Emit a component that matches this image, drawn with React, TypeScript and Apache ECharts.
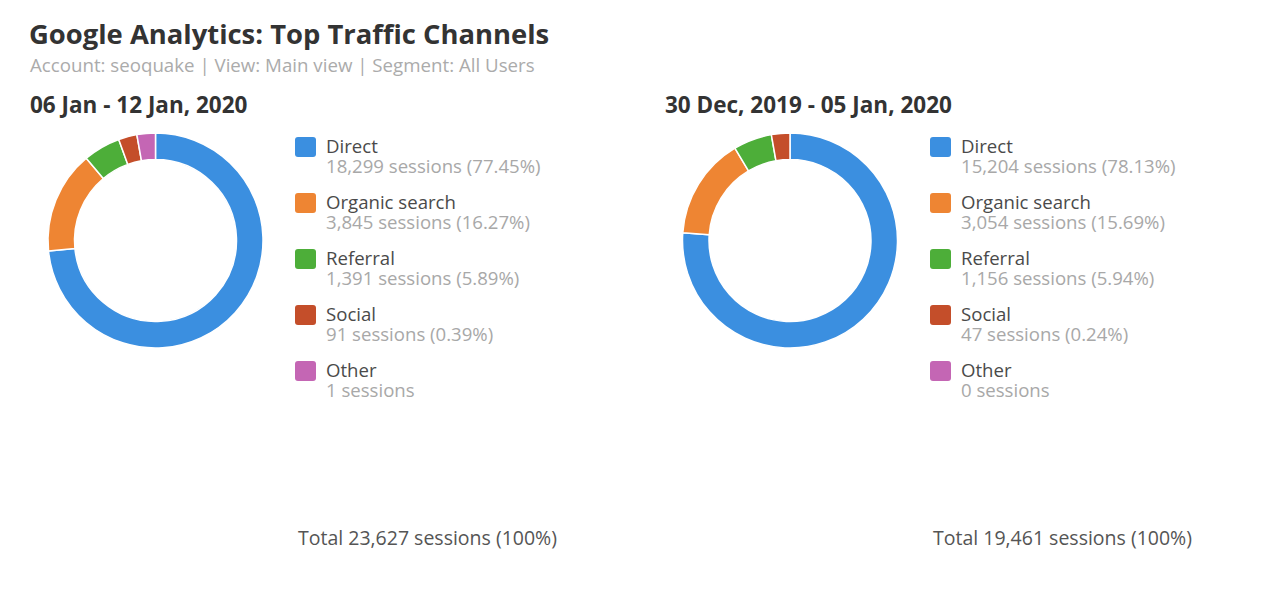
import React, { useEffect, useRef } from "react";
import * as echarts from "echarts";

const channels = ["Direct", "Organic search", "Referral", "Social", "Other"];
const colors = ["#3B8FE0", "#EE8533", "#4DAE39", "#C44E2A", "#C466B4"];
const week1Sessions = [18299, 3845, 1391, 91, 1];
const week1Pct = ["77.45%", "16.27%", "5.89%", "0.39%", ""];
const week2Sessions = [15204, 3054, 1156, 47, 0];
const week2Pct = ["78.13%", "15.69%", "5.94%", "0.24%", ""];
const week1Label = "06 Jan - 12 Jan, 2020";
const week2Label = "30 Dec, 2019 - 05 Jan, 2020";
const week1Total = 23627;
const week2Total = 19461;

const FONT = "'Open Sans', 'Noto Sans', sans-serif";
const fmt = (n: number) => n.toLocaleString("en-US");

function legendGraphics(x0: number, sessions: number[], pcts: string[]) {
  const els: any[] = [];
  channels.forEach((name, i) => {
    const y = 137 + i * 56;
    els.push({
      type: "rect",
      shape: { x: x0, y, width: 21, height: 20, r: 3 },
      style: { fill: colors[i] },
    });
    els.push({
      type: "text",
      x: x0 + 31,
      y: y + 8.5,
      style: {
        text: name,
        font: `18.6px ${FONT}`,
        fill: "#4a4a4a",
        verticalAlign: "middle",
      },
    });
    els.push({
      type: "text",
      x: x0 + 31,
      y: y + 28.3,
      style: {
        text: `${fmt(sessions[i])} sessions${pcts[i] ? ` (${pcts[i]})` : ""}`,
        font: `18.6px ${FONT}`,
        fill: "#a8a8a8",
        verticalAlign: "middle",
      },
    });
  });
  return els;
}

function pieSeries(center: [number, number], sessions: number[]) {
  return {
    type: "pie",
    center,
    radius: [81, 107.5],
    startAngle: 90,
    clockwise: true,
    minAngle: 10,
    avoidLabelOverlap: false,
    label: { show: false },
    labelLine: { show: false },
    emphasis: { disabled: true },
    itemStyle: { borderColor: "#fff", borderWidth: 1.5 },
    data: channels
      .map((name, i) => ({ name, value: sessions[i], itemStyle: { color: colors[i] } }))
      .filter((d) => d.value > 0),
  };
}

export default function App() {
  const ref = useRef<HTMLDivElement>(null);
  useEffect(() => {
    if (!ref.current) return;
    const chart = echarts.init(ref.current, undefined, { renderer: "svg" });
    chart.setOption({
      animation: false,
      backgroundColor: "#fff",
      tooltip: { show: false },
      series: [pieSeries([155.5, 240.5], week1Sessions), pieSeries([790, 240.5], week2Sessions)],
      graphic: [
        {
          type: "text",
          x: 29,
          y: 33,
          style: {
            text: "Google Analytics: Top Traffic Channels",
            font: `bold 27.4px ${FONT}`,
            fill: "#333",
            verticalAlign: "middle",
          },
        },
        {
          type: "text",
          x: 30,
          y: 64,
          style: {
            text: "Account: seoquake | View: Main view | Segment: All Users",
            font: `18.7px ${FONT}`,
            fill: "#ababab",
            verticalAlign: "middle",
          },
        },
        {
          type: "text",
          x: 30,
          y: 104,
          style: { text: week1Label, font: `bold 22.5px ${FONT}`, fill: "#333", verticalAlign: "middle" },
        },
        {
          type: "text",
          x: 665,
          y: 104,
          style: { text: week2Label, font: `bold 22.5px ${FONT}`, fill: "#333", verticalAlign: "middle" },
        },
        ...legendGraphics(295, week1Sessions, week1Pct),
        ...legendGraphics(930, week2Sessions, week2Pct),
        {
          type: "text",
          x: 298,
          y: 537,
          style: {
            text: `Total ${fmt(week1Total)} sessions (100%)`,
            font: `19.5px ${FONT}`,
            fill: "#555",
            verticalAlign: "middle",
          },
        },
        {
          type: "text",
          x: 933,
          y: 537,
          style: {
            text: `Total ${fmt(week2Total)} sessions (100%)`,
            font: `19.5px ${FONT}`,
            fill: "#555",
            verticalAlign: "middle",
          },
        },
      ],
    });
    return () => chart.dispose();
  }, []);
  return (
    <div style={{ position: "fixed", left: 0, top: 0, width: 1266, height: 608, background: "#fff" }}>
      <div ref={ref} style={{ width: 1266, height: 608 }} />
    </div>
  );
}
